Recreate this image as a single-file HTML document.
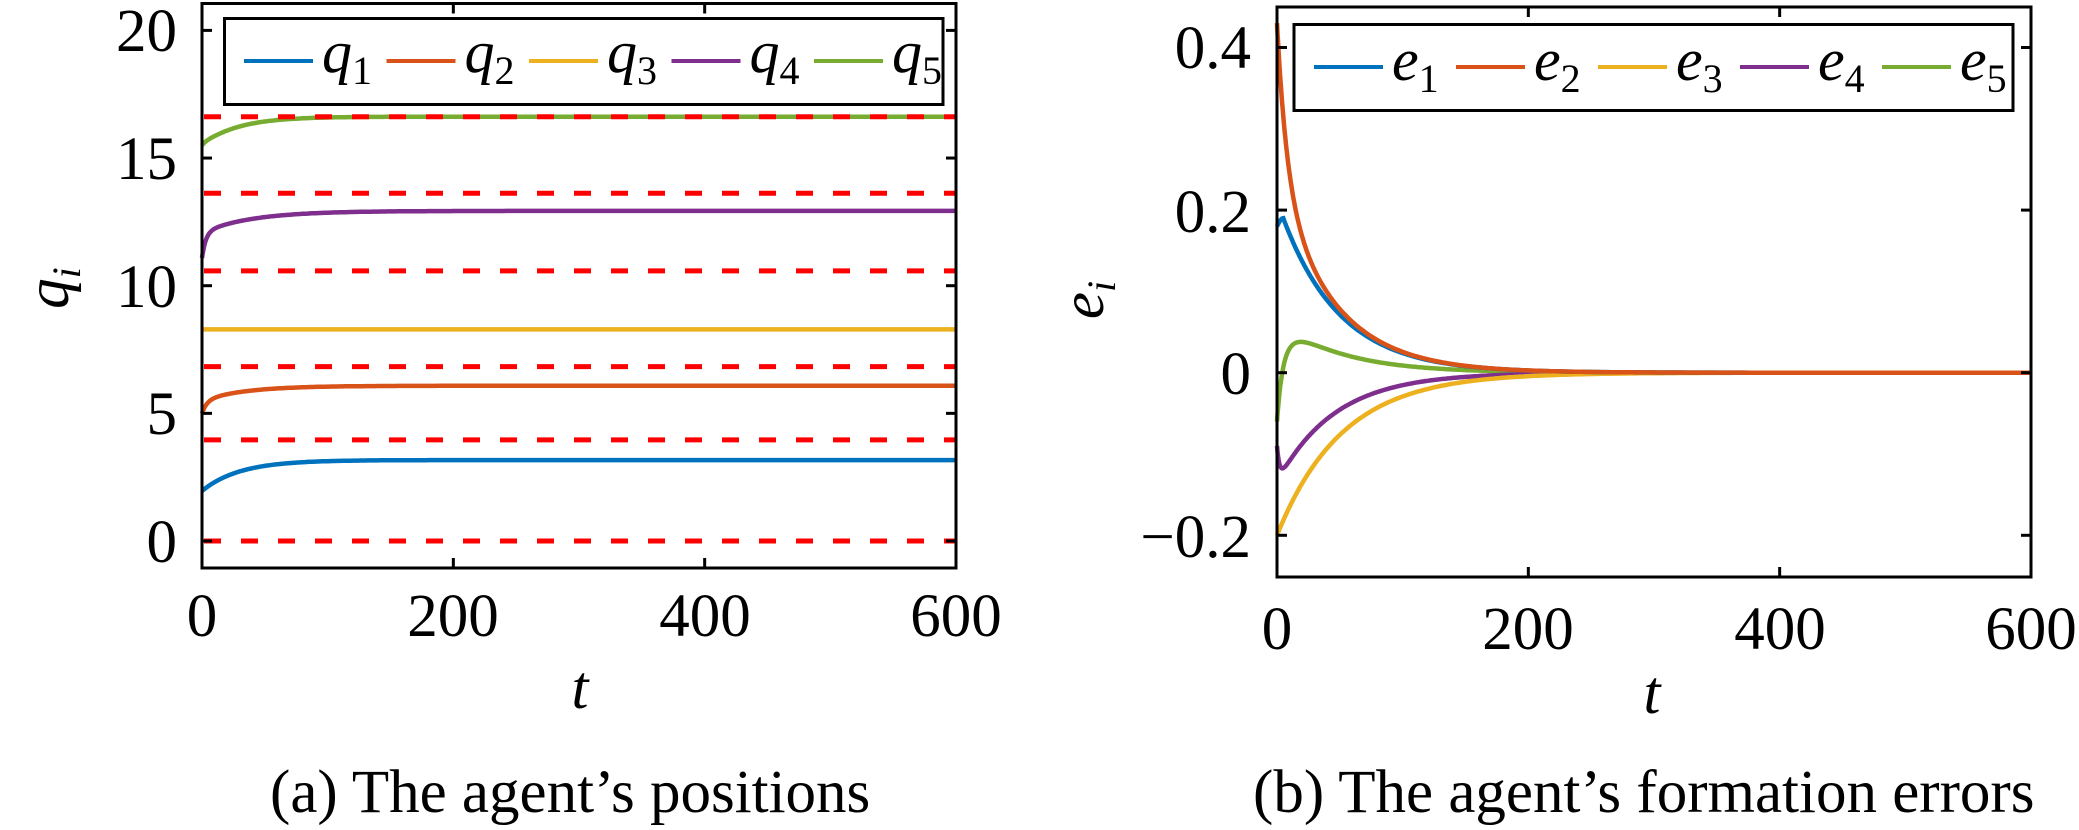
<!DOCTYPE html>
<html><head><meta charset="utf-8">
<style>
html,body{margin:0;padding:0;background:#fff;}
svg{display:block;}
svg text{font-family:"Liberation Serif","Times New Roman",serif;}
</style></head>
<body>
<svg id="s" width="2079" height="830" viewBox="0 0 2079 830" xmlns="http://www.w3.org/2000/svg" font-family="Liberation Serif, serif">
<rect width="2079" height="830" fill="#fff"/>
<g id="left"></g>
<g id="right"></g>
<rect x="202" y="3.5" width="754" height="564.5" fill="none" stroke="#000" stroke-width="3"/>
<rect x="1277" y="7" width="754" height="570" fill="none" stroke="#000" stroke-width="3"/>
<g id="ticks" stroke="#000" stroke-width="3"></g>
<rect x="224.5" y="18.5" width="718.5" height="86" fill="#fff" stroke="#000" stroke-width="3"/>
<rect x="1294" y="24.5" width="719" height="86" fill="#fff" stroke="#000" stroke-width="3"/>
<g id="leg" font-family="Liberation Serif, serif"></g>
<g font-size="61" fill="#000" font-family="Liberation Serif, serif">
<text x="177" y="562" text-anchor="end">0</text>
<text x="177" y="434" text-anchor="end">5</text>
<text x="177" y="307" text-anchor="end">10</text>
<text x="177" y="179" text-anchor="end">15</text>
<text x="177" y="51" text-anchor="end">20</text>
<text x="202" y="636" text-anchor="middle">0</text>
<text x="453" y="636" text-anchor="middle">200</text>
<text x="705" y="636" text-anchor="middle">400</text>
<text x="956" y="636" text-anchor="middle">600</text>
<text x="1251" y="68" text-anchor="end">0.4</text>
<text x="1251" y="232" text-anchor="end">0.2</text>
<text x="1251" y="394" text-anchor="end">0</text>
<text x="1251" y="557" text-anchor="end">−0.2</text>
<text x="1277" y="649" text-anchor="middle">0</text>
<text x="1528" y="649" text-anchor="middle">200</text>
<text x="1780" y="649" text-anchor="middle">400</text>
<text x="2031" y="649" text-anchor="middle">600</text>
<text x="580" y="708" text-anchor="middle" font-style="italic">t</text>
<text x="1652" y="713" text-anchor="middle" font-style="italic">t</text>
<text transform="translate(68,288) rotate(-90)" text-anchor="middle" font-style="italic">q<tspan font-size="40" dy="12">i</tspan></text>
<text transform="translate(1103,300) rotate(-90)" text-anchor="middle" font-style="italic">e<tspan font-size="40" dy="12">i</tspan></text>
<text x="270" y="812">(a) The agent’s positions</text>
<text x="1253" y="812">(b) The agent’s formation errors</text>
</g>
</svg>
<script>
var NS="http://www.w3.org/2000/svg";
function el(p,tag,a){var e=document.createElementNS(NS,tag);for(var k in a)e.setAttribute(k,a[k]);p.appendChild(e);return e;}
var C=["#0072BD","#D95319","#EDB120","#7E2F8E","#77AC30"];
var L=document.getElementById("left"),R=document.getElementById("right");
function XL(t){return 202+t*754/600;} function YL(q){return 541-25.53*q;}
function XR(t){return 1277+t*754/600;} function YR(v){return 372.7-813*v;}
var E=Math.exp;
var qf=[
 function(t){return 3.17-1.21*E(-t/30);},
 function(t){return 6.08-0.5*E(-t/4)-0.58*E(-t/35);},
 function(t){return 8.29;},
 function(t){return 12.93-1.0*E(-t/3)-0.85*E(-t/40);},
 function(t){return 16.62-1.12*E(-t/28)+0.15*E(-t/6)-0.15*E(-t/3);}
];
function path(f,X,Y){var d="";for(var t=0;t<=600;t+=(t<40?0.5:2)){d+=(d?"L":"M")+X(t).toFixed(1)+","+Y(f(t)).toFixed(1);}return d;}
[0,1,2,3,4].forEach(function(i){
  el(L,"path",{d:path(qf[i],XL,YL),fill:"none",stroke:C[i],"stroke-width":4.5});
});
[0,3.96,6.83,10.58,13.62,16.62].forEach(function(v){
  el(L,"line",{x1:204,x2:955,y1:YL(v),y2:YL(v),stroke:"#ff0000","stroke-width":5,"stroke-dasharray":"17 20"});
});
var ef=[
 function(t){return t<5?0.18+0.01*Math.sin(Math.PI*t/10):0.19*E(-(t-5)/46);},
 function(t){return 0.43*(0.45*E(-t/8)+0.55*E(-t/45));},
 function(t){return -0.2*E(-t/52);},
 function(t){return -0.135*E(-t/46)+0.045*E(-t/2);},
 function(t){return 0.065*(E(-t/50)-E(-t/8))-0.06*E(-t/4);}
];
[4,3,2,0,1].forEach(function(i){
  el(R,"path",{d:path(ef[i],XR,YR),fill:"none",stroke:C[i],"stroke-width":4.5});
});
var T=document.getElementById("ticks");
[0,5,10,15,20].forEach(function(v){var y=YL(v);
 el(T,"line",{x1:202,x2:212,y1:y,y2:y});el(T,"line",{x1:946,x2:956,y1:y,y2:y});});
[0,200,400,600].forEach(function(t){var x=XL(t);
 el(T,"line",{x1:x,x2:x,y1:568,y2:558});el(T,"line",{x1:x,x2:x,y1:3.5,y2:13.5});
 x=XR(t);el(T,"line",{x1:x,x2:x,y1:577,y2:567});el(T,"line",{x1:x,x2:x,y1:7,y2:17});});
[-0.2,0,0.2,0.4].forEach(function(v){var y=YR(v);
 el(T,"line",{x1:1277,x2:1287,y1:y,y2:y});el(T,"line",{x1:2021,x2:2031,y1:y,y2:y});});
var G=document.getElementById("leg");
function leg(x0,step,ly,by,ch){
 for(var i=0;i<5;i++){var x=x0+step*i;
  el(G,"line",{x1:x,x2:x+69,y1:ly,y2:ly,stroke:C[i],"stroke-width":4});
  var t=el(G,"text",{x:x+78,y:by,"font-size":60,"font-style":"italic","font-family":"Liberation Serif, serif"});
  t.textContent=ch;
  var s=el(t,"tspan",{"font-size":40,"font-style":"normal",dy:12});s.textContent=String(i+1);
 }}
leg(244,142.5,61,72,"q");
leg(1314,142,67,80,"e");
</script>
</body></html>
